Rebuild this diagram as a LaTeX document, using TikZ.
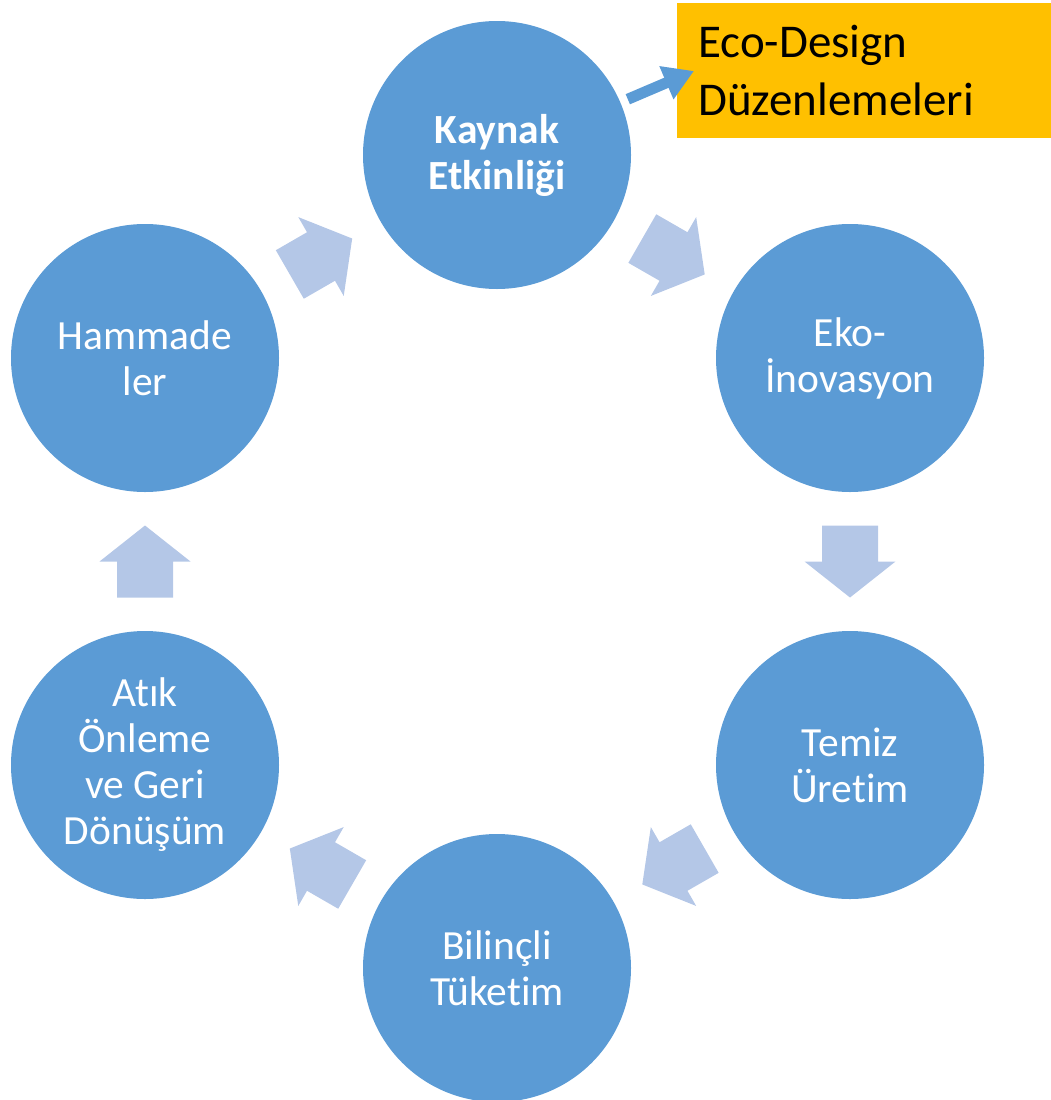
\documentclass[tikz,border=0pt]{standalone}
\usepackage{fontspec}
\setmainfont{Carlito}[Ligatures={NoCommon}]
\usetikzlibrary{calc,arrows.meta}
\definecolor{circleblue}{HTML}{5B9BD5}
\definecolor{palearrow}{HTML}{B4C7E7}
\definecolor{boxorange}{HTML}{FFC000}
\begin{document}
\begin{tikzpicture}[x=1pt,y=-1pt,
  stage/.style={circle,fill=circleblue,draw=none,minimum size=268pt,inner sep=0pt,
    text=white,align=center,font=\fontsize{41.5}{46}\selectfont},
  notebox/.style={rectangle,fill=boxorange,draw=none,minimum width=374pt,minimum height=135pt,
    inner sep=0pt,text width=332pt,align=left,font=\fontsize{47}{58}\selectfont},
  ecoarrow/.style={draw=circleblue,line width=11pt,-{Triangle[width=34pt,length=30pt]}},
  blockarrow/.pic={\fill[palearrow] (-36,-28) -- (0,-28) -- (0,-45.5) -- (36,0) -- (0,45.5) -- (0,28) -- (-36,28) -- cycle;}
]
\useasboundingbox (0,0) rectangle (1051,1100);

% the six stages of the cycle
\node[stage,font=\fontsize{41.5}{46}\selectfont\bfseries] (kaynak) at (497,155) {Kaynak\\Etkinliği};
\node[stage] (eko)    at (850,358) {Eko-\\İnovasyon};
\node[stage] (temiz)  at (850,765) {Temiz\\Üretim};
\node[stage] (bilinc) at (497,968) {Bilinçli\\Tüketim};
\node[stage] (atik)   at (145,765) {Atık\\Önleme\\ve Geri\\Dönüşüm};
\node[stage] (hamm)   at (145,358) {Hammade\\ler};

% block arrows between neighbouring stages, clockwise
\foreach \a/\b in {kaynak/eko,eko/temiz,temiz/bilinc,bilinc/atik,atik/hamm,hamm/kaynak}{
  \path let \p1=($(\b.center)-(\a.center)$), \n1={atan2(\y1,\x1)} in
    ($(\a.center)!0.5!(\b.center)$) pic[rotate=\n1] {blockarrow};
}

% side note
\node[notebox,anchor=north west] (eco) at (677,3) {Eco-Design\\Düzenlemeleri};
\coordinate (ecotip) at (694,71);
\draw[ecoarrow,shorten <=8pt] (kaynak) -- (ecotip);
\end{tikzpicture}
\end{document}
